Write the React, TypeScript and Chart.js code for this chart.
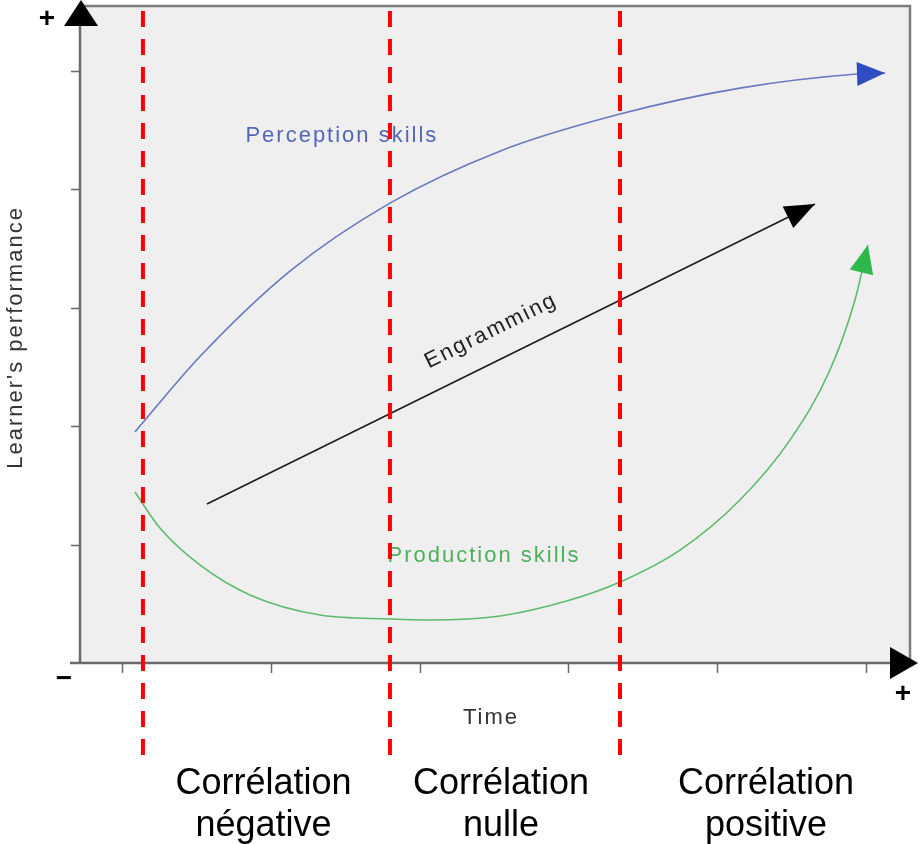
import React, { useEffect, useRef } from "react";
import { Chart, registerables } from "chart.js";

Chart.register(...registerables);

// ---- Data (x: time units, tick 0..5 ; y: performance units, tick 1..5) ----
const xTicks = [0, 1, 2, 3, 4, 5];
const yTicks = [1, 2, 3, 4, 5];

const perceptionX = [0.087, 0.524, 1.129, 1.801, 2.540, 3.347, 4.153, 4.940, 5.128];
const perceptionY = [1.951, 2.589, 3.311, 3.885, 4.324, 4.637, 4.856, 4.975, 4.983];

const engrammingX = [0.571, 4.657];
const engrammingY = [1.343, 3.877];

const productionX = [0.087, 0.255, 0.524, 0.860, 1.331, 1.801, 2.070, 2.540, 3.011, 3.347, 3.750, 4.153, 4.489, 4.758, 4.926, 5.013];
const productionY = [1.444, 1.140, 0.828, 0.574, 0.405, 0.372, 0.363, 0.397, 0.532, 0.684, 0.954, 1.377, 1.883, 2.475, 3.066, 3.530];

const correlationBoundaries = [0.141, 1.801, 3.347];
const zoneCenters = [0.951, 2.548, 4.328];
const zoneTitles = [
  ["Corrélation", "négative"],
  ["Corrélation", "nulle"],
  ["Corrélation", "positive"],
];

const seriesLabels = ["Perception skills", "Engramming", "Production skills"];
const xAxisTitle = "Time";
const yAxisTitle = "Learner's performance";

const FONT = '"Liberation Sans", Arial, Helvetica, sans-serif';

const toPts = (xs: number[], ys: number[]) => xs.map((x, i) => ({ x, y: ys[i] }));

function arrowHead(ctx: CanvasRenderingContext2D, tipX: number, tipY: number, fromX: number, fromY: number, len: number, half: number, color: string) {
  const ang = Math.atan2(tipY - fromY, tipX - fromX);
  const bx = tipX - len * Math.cos(ang);
  const by = tipY - len * Math.sin(ang);
  const nx = -Math.sin(ang);
  const ny = Math.cos(ang);
  ctx.beginPath();
  ctx.moveTo(tipX, tipY);
  ctx.lineTo(bx + nx * half, by + ny * half);
  ctx.lineTo(bx - nx * half, by - ny * half);
  ctx.closePath();
  ctx.fillStyle = color;
  ctx.fill();
}

const diagramPlugin = {
  id: "diagram",
  beforeDatasetsDraw(chart: any) {
    const { ctx, chartArea: a, scales } = chart;
    const xs = scales.x;
    const ys = scales.y;
    ctx.save();
    // background
    ctx.fillStyle = "#efefef";
    ctx.fillRect(a.left, a.top, a.right - a.left, a.bottom - a.top);
    // frame top & right
    ctx.strokeStyle = "#7c7c7c";
    ctx.lineWidth = 2.5;
    ctx.beginPath();
    ctx.moveTo(a.left, a.top);
    ctx.lineTo(a.right, a.top);
    ctx.lineTo(a.right, a.bottom);
    ctx.stroke();
    // axes
    ctx.strokeStyle = "#6a6a6a";
    ctx.lineWidth = 2.5;
    ctx.beginPath();
    ctx.moveTo(a.left, a.top + 16);
    ctx.lineTo(a.left, a.bottom);
    ctx.moveTo(a.left - 10, a.bottom);
    ctx.lineTo(a.right - 18, a.bottom);
    ctx.stroke();
    // ticks
    ctx.lineWidth = 1.5;
    ctx.beginPath();
    yTicks.forEach((v) => {
      const py = Math.round(ys.getPixelForValue(v)) + 0.5;
      ctx.moveTo(a.left - 9, py);
      ctx.lineTo(a.left, py);
    });
    xTicks.forEach((v) => {
      const px = Math.round(xs.getPixelForValue(v)) + 0.5;
      ctx.moveTo(px, a.bottom);
      ctx.lineTo(px, a.bottom + 10);
    });
    ctx.stroke();
    // axis arrowheads
    ctx.fillStyle = "#000";
    ctx.beginPath();
    ctx.moveTo(a.left + 1, a.top - 6);
    ctx.lineTo(a.left + 18, a.top + 20);
    ctx.lineTo(a.left - 16, a.top + 20);
    ctx.closePath();
    ctx.fill();
    ctx.beginPath();
    ctx.moveTo(a.right + 8, a.bottom);
    ctx.lineTo(a.right - 20, a.bottom - 16);
    ctx.lineTo(a.right - 20, a.bottom + 16);
    ctx.closePath();
    ctx.fill();
    // +/- signs
    ctx.font = `bold 28px ${FONT}`;
    ctx.textAlign = "center";
    ctx.textBaseline = "middle";
    ctx.fillText("+", a.left - 33, a.top + 13);
    ctx.fillText("+", a.right - 7, a.bottom + 31);
    ctx.fillText("−", a.left - 16, a.bottom + 16);
    ctx.restore();
  },
  afterDatasetsDraw(chart: any) {
    const { ctx, chartArea: a, scales } = chart;
    const xs = scales.x;
    const ys = scales.y;
    ctx.save();
    // arrowheads on curves
    const heads = [
      { i: 0, color: "#2f4cc0", len: 28, half: 12 },
      { i: 1, color: "#000000", len: 30, half: 12 },
      { i: 2, color: "#2eb84c", len: 28, half: 12 },
    ];
    heads.forEach((h) => {
      const pts = chart.getDatasetMeta(h.i).data;
      const t = pts[pts.length - 1];
      const p = pts[pts.length - 2];
      arrowHead(ctx, t.x, t.y, p.x, p.y, h.len, h.half, h.color);
    });

    // series labels
    ctx.textAlign = "center";
    ctx.textBaseline = "middle";
    (ctx as any).letterSpacing = "2px";
    ctx.font = `22px ${FONT}`;
    ctx.fillStyle = "#5566bb";
    ctx.fillText(seriesLabels[0], xs.getPixelForValue(1.478), ys.getPixelForValue(4.451));
    ctx.fillStyle = "#4cb05a";
    ctx.fillText(seriesLabels[2], xs.getPixelForValue(2.433), ys.getPixelForValue(0.904));
    // Engramming rotated along line
    const p0x = xs.getPixelForValue(engrammingX[0]);
    const p0y = ys.getPixelForValue(engrammingY[0]);
    const p1x = xs.getPixelForValue(engrammingX[1]);
    const p1y = ys.getPixelForValue(engrammingY[1]);
    const ang = Math.atan2(p1y - p0y, p1x - p0x);
    ctx.save();
    ctx.translate(xs.getPixelForValue(2.48), ys.getPixelForValue(2.804));
    ctx.rotate(ang);
    ctx.fillStyle = "#222";
    ctx.fillText(seriesLabels[1], 0, 0);
    ctx.restore();

    // axis titles
    ctx.fillStyle = "#333";
    ctx.fillText(xAxisTitle, xs.getPixelForValue(2.48), a.bottom + 55);
    ctx.save();
    ctx.translate(16, ys.getPixelForValue(2.75));
    ctx.rotate(-Math.PI / 2);
    ctx.fillText(yAxisTitle, 0, 0);
    ctx.restore();
    (ctx as any).letterSpacing = "0px";

    // red dashed boundaries
    ctx.strokeStyle = "#ff0000";
    ctx.lineWidth = 4;
    ctx.setLineDash([16, 12]);
    correlationBoundaries.forEach((v) => {
      const px = xs.getPixelForValue(v);
      ctx.beginPath();
      ctx.moveTo(px, a.top + 5);
      ctx.lineTo(px, a.bottom + 92);
      ctx.stroke();
    });
    ctx.setLineDash([]);

    // zone titles
    ctx.fillStyle = "#000";
    ctx.font = `36px ${FONT}`;
    ctx.textBaseline = "alphabetic";
    zoneTitles.forEach((lines, i) => {
      const cx = xs.getPixelForValue(zoneCenters[i]);
      ctx.fillText(lines[0], cx, a.bottom + 131);
      ctx.fillText(lines[1], cx, a.bottom + 173);
    });
    ctx.restore();
  },
};

export default function App() {
  const ref = useRef<HTMLCanvasElement | null>(null);
  useEffect(() => {
    if (!ref.current) return;
    const chart = new Chart(ref.current, {
      type: "scatter",
      data: {
        datasets: [
          {
            label: seriesLabels[0],
            data: toPts(perceptionX, perceptionY),
            showLine: true,
            borderColor: "#6a78c0",
            borderWidth: 1.6,
            pointRadius: 0,
            cubicInterpolationMode: "monotone",
          },
          {
            label: seriesLabels[1],
            data: toPts(engrammingX, engrammingY),
            showLine: true,
            borderColor: "#1c1c1c",
            borderWidth: 1.6,
            pointRadius: 0,
          },
          {
            label: seriesLabels[2],
            data: toPts(productionX, productionY),
            showLine: true,
            borderColor: "#5cbb6c",
            borderWidth: 1.6,
            pointRadius: 0,
            cubicInterpolationMode: "monotone",
          },
        ],
      },
      options: {
        animation: false,
        responsive: false,
        devicePixelRatio: 1,
        layout: { padding: { left: 80, right: 10, top: 6, bottom: 181 } },
        plugins: { legend: { display: false }, tooltip: { enabled: false } },
        scales: {
          x: { type: "linear", min: -0.282, max: 5.296, display: false },
          y: { type: "linear", min: 0, max: 5.55, display: false },
        },
      } as any,
      plugins: [diagramPlugin],
    });
    return () => chart.destroy();
  }, []);
  return (
    <div style={{ position: "absolute", left: 0, top: 0, width: 920, height: 844, background: "#fff" }}>
      <canvas ref={ref} width={920} height={844} style={{ display: "block" }} />
    </div>
  );
}
